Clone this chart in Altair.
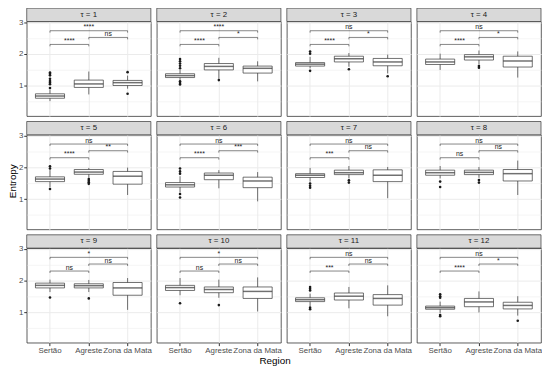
import altair as alt
import pandas as pd

TAUS = ["τ = 1", "τ = 2", "τ = 3", "τ = 4", "τ = 5", "τ = 6",
        "τ = 7", "τ = 8", "τ = 9", "τ = 10", "τ = 11", "τ = 12"]
REGIONS = ["Sertão", "Agreste", "Zona da Mata"]

# per tau: [Sertão, Agreste, Zona da Mata]
Q1 = [[0.61, 0.95, 1.01], [1.26, 1.50, 1.40], [1.62, 1.75, 1.63], [1.67, 1.81, 1.59],
      [1.55, 1.78, 1.47], [1.38, 1.61, 1.36], [1.68, 1.77, 1.55], [1.75, 1.77, 1.57],
      [1.77, 1.77, 1.54], [1.69, 1.62, 1.44], [1.34, 1.39, 1.23], [1.10, 1.18, 1.11]]
MED = [[0.68, 1.06, 1.10], [1.32, 1.61, 1.55], [1.68, 1.85, 1.75], [1.75, 1.91, 1.78],
       [1.63, 1.85, 1.72], [1.45, 1.75, 1.57], [1.75, 1.83, 1.75], [1.83, 1.84, 1.80],
       [1.85, 1.84, 1.77], [1.78, 1.72, 1.66], [1.40, 1.51, 1.44], [1.15, 1.33, 1.22]]
Q3 = [[0.75, 1.18, 1.17], [1.38, 1.70, 1.62], [1.73, 1.93, 1.86], [1.84, 1.98, 1.93],
      [1.70, 1.93, 1.87], [1.52, 1.82, 1.69], [1.80, 1.91, 1.92], [1.91, 1.91, 1.93],
      [1.92, 1.90, 1.94], [1.85, 1.80, 1.80], [1.46, 1.61, 1.56], [1.20, 1.44, 1.32]]
LO = [[0.52, 0.73, 0.91], [1.18, 1.22, 1.14], [1.55, 1.60, 1.39], [1.50, 1.67, 1.26],
      [1.37, 1.67, 1.13], [1.21, 1.34, 0.93], [1.55, 1.65, 1.03], [1.65, 1.67, 1.13],
      [1.64, 1.64, 1.08], [1.54, 1.46, 1.03], [1.20, 1.13, 0.88], [0.98, 1.00, 0.90]]
HI = [[0.88, 1.45, 1.32], [1.50, 1.88, 1.77], [1.91, 2.03, 1.98], [2.01, 2.11, 2.08],
      [1.91, 1.98, 1.99], [1.72, 1.91, 1.85], [1.98, 2.04, 2.01], [2.04, 2.01, 2.21],
      [2.03, 2.02, 2.08], [2.08, 2.03, 2.10], [1.59, 1.80, 1.85], [1.34, 1.66, 1.51]]
OUTLIERS = [
    [[1.42, 1.38, 1.33, 1.22, 1.15, 1.10, 1.05, 0.93], [], [1.43, 0.75]],
    [[1.84, 1.77, 1.70, 1.63, 1.55, 1.14, 1.09, 1.04], [1.18], []],
    [[2.08, 2.01, 1.47], [1.52], [1.30]],
    [[], [1.62, 1.57], []],
    [[2.03, 1.96, 1.32], [1.63, 1.58, 1.53, 1.48], []],
    [[1.96, 1.87, 1.80, 1.16, 1.05], [], []],
    [[1.49, 1.42, 1.36], [1.59, 1.52], []],
    [[1.55, 1.38], [1.60, 1.52], []],
    [[1.47], [1.44], []],
    [[1.29], [1.23], []],
    [[1.80, 1.74, 1.69, 1.15, 1.10], [], []],
    [[1.57, 1.51, 1.46, 0.92, 0.88], [], [0.74]],
]
SIG_SA = ["****", "****", "****", "****", "****", "****", "***", "ns", "ns", "ns", "***", "****"]
SIG_AZ = ["ns", "*", "*", "*", "**", "***", "ns", "ns", "ns", "ns", "ns", "*"]
SIG_SZ = ["****", "****", "ns", "ns", "ns", "ns", "ns", "ns", "*", "*", "ns", "ns"]
BRACKET_Y = {"SA": 2.30, "AZ": 2.52, "SZ": 2.73}

rows = []
for t, tau in enumerate(TAUS):
    rows.append(dict(tau=tau, kind="strip"))
    for r, reg in enumerate(REGIONS):
        rows.append(dict(tau=tau, kind="box", region=reg, q1=Q1[t][r], med=MED[t][r],
                         q3=Q3[t][r], lo=LO[t][r], hi=HI[t][r]))
        for v in OUTLIERS[t][r]:
            rows.append(dict(tau=tau, kind="out", region=reg, val=v))
    pairs = [("SA", "Sertão", "Agreste", SIG_SA[t]),
             ("AZ", "Agreste", "Zona da Mata", SIG_AZ[t]),
             ("SZ", "Sertão", "Zona da Mata", SIG_SZ[t])]
    for key, a, b, lab in pairs:
        yb = BRACKET_Y[key]
        rows.append(dict(tau=tau, kind="br", region=a, region2=b, yb=yb))
        rows.append(dict(tau=tau, kind="brtick", region=a, yb=yb))
        rows.append(dict(tau=tau, kind="brtick", region=b, yb=yb))
        if key == "SZ":
            rows.append(dict(tau=tau, kind="labmid", region="Agreste", yb=yb, lab=lab))
        else:
            rows.append(dict(tau=tau, kind="laboff", region=a, yb=yb, lab=lab))
df = pd.DataFrame(rows)

W, H = 126, 96
STEP = W / 3.2
BAND = 0.75 * STEP
LINE = "#333333"
GRID = "#ebebeb"
FONT = "Liberation Sans"
minor = "datum.value % 1 !== 0"
YVALS = [0.5, 1, 1.5, 2, 2.5, 3]

XS = alt.Scale(domain=REGIONS, paddingInner=0.25, paddingOuter=0.225)
YS = alt.Scale(domain=[0.05, 3.02], nice=False, zero=False)

XAX_ON = alt.Axis(title=None, grid=True, gridColor=GRID, gridWidth=1, bandPosition=0.5,
                  domain=False, tickColor=LINE, tickSize=3, labelColor="#4d4d4d",
                  labelFontSize=8, labelFont=FONT, labelPadding=1, labelAngle=0)
XAX_OFF = alt.Axis(title=None, grid=True, gridColor=GRID, gridWidth=1, bandPosition=0.5,
                   domain=False, ticks=False, labels=False, tickSize=0, labelPadding=0,
                   minExtent=0, maxExtent=0)
YAX_ON = alt.Axis(title=None, values=YVALS,
                  labelExpr="datum.value % 1 === 0 ? format(datum.value, 'd') : ''",
                  grid=True, gridColor=GRID,
                  gridWidth={"condition": {"test": minor, "value": 0.5}, "value": 1},
                  tickOpacity={"condition": {"test": minor, "value": 0}, "value": 1},
                  domain=False, tickColor=LINE, tickSize=3, labelColor="#4d4d4d",
                  labelFontSize=8, labelFont=FONT, labelPadding=1)
YAX_OFF = alt.Axis(title=None, values=YVALS, grid=True, gridColor=GRID,
                   gridWidth={"condition": {"test": minor, "value": 0.5}, "value": 1},
                   domain=False, ticks=False, labels=False, tickSize=0, labelPadding=0,
                   minExtent=0, maxExtent=0)


def panel(i):
    tau = TAUS[i]
    xax = XAX_ON if i // 4 == 2 else XAX_OFF
    yax = YAX_ON if i % 4 == 0 else YAX_OFF

    def X():
        return alt.X("region:N", scale=XS, axis=xax, title=None)

    def Y(field):
        return alt.Y(f"{field}:Q", scale=YS, axis=yax, title=None)

    base = alt.Chart()
    whisk = base.transform_filter("datum.kind == 'box'").mark_rule(
        color=LINE, strokeWidth=0.7).encode(x=X(), y=Y("lo"), y2="hi:Q")
    box = base.transform_filter("datum.kind == 'box'").mark_bar(
        fill="white", stroke=LINE, strokeWidth=0.7).encode(x=X(), y=Y("q1"), y2="q3:Q")
    med = base.transform_filter("datum.kind == 'box'").mark_tick(
        color=LINE, size=BAND, thickness=1.5).encode(x=X(), y=Y("med"))
    out = base.transform_filter("datum.kind == 'out'").mark_circle(
        color="#1a1a1a", size=7, opacity=1).encode(x=X(), y=Y("val"))
    br = base.transform_filter("datum.kind == 'br'").mark_rule(
        color=LINE, strokeWidth=0.6).encode(x=X(), x2="region2:N", y=Y("yb"))
    brtick = base.transform_filter("datum.kind == 'brtick'").transform_calculate(
        yb2="datum.yb - 0.06").mark_rule(color=LINE, strokeWidth=0.6).encode(
        x=X(), y=Y("yb"), y2="yb2:Q")
    laboff = base.transform_filter("datum.kind == 'laboff'").mark_text(
        font=FONT, fontSize=7, fill="#1a1a1a", baseline="alphabetic", dx=STEP / 2, dy=-1.5
    ).encode(x=X(), y=Y("yb"), text="lab:N")
    labmid = base.transform_filter("datum.kind == 'labmid'").mark_text(
        font=FONT, fontSize=7, fill="#1a1a1a", baseline="alphabetic", dy=-1.5
    ).encode(x=X(), y=Y("yb"), text="lab:N")
    strip = base.transform_filter("datum.kind == 'strip'").mark_rect(
        fill="#d9d9d9", stroke=LINE, strokeWidth=0.7).encode(
        x=alt.value(0), x2=alt.value(W), y=alt.value(-13.5), y2=alt.value(0))
    striptxt = base.transform_filter("datum.kind == 'strip'").mark_text(
        font=FONT, fontSize=8, fill="#1a1a1a", baseline="middle").encode(
        x=alt.value(W / 2), y=alt.value(-6.75), text="tau:N")
    return alt.layer(whisk, box, med, out, br, brtick, laboff, labmid, strip, striptxt,
                     data=df).transform_filter(
        alt.FieldEqualPredicate(field="tau", equal=tau)).properties(width=W, height=H)


grid_rows = [alt.hconcat(*[panel(r * 4 + c) for c in range(4)], spacing=4) for r in range(3)]
inner = alt.vconcat(*grid_rows, spacing=3).properties(
    title=alt.TitleParams("Entropy", orient="left", anchor="middle", fontSize=10, font=FONT,
                          fontWeight="normal", color="black", offset=0))
chart = alt.vconcat(inner).properties(
    title=alt.TitleParams("Region", orient="bottom", anchor="middle", fontSize=10, font=FONT,
                          fontWeight="normal", color="black", offset=1),
    padding={"left": 0, "top": -4, "right": 0, "bottom": 0},
).configure_view(stroke=LINE, strokeWidth=0.8)

chart.save("out.html", embed_options={"renderer": "svg", "actions": False})
